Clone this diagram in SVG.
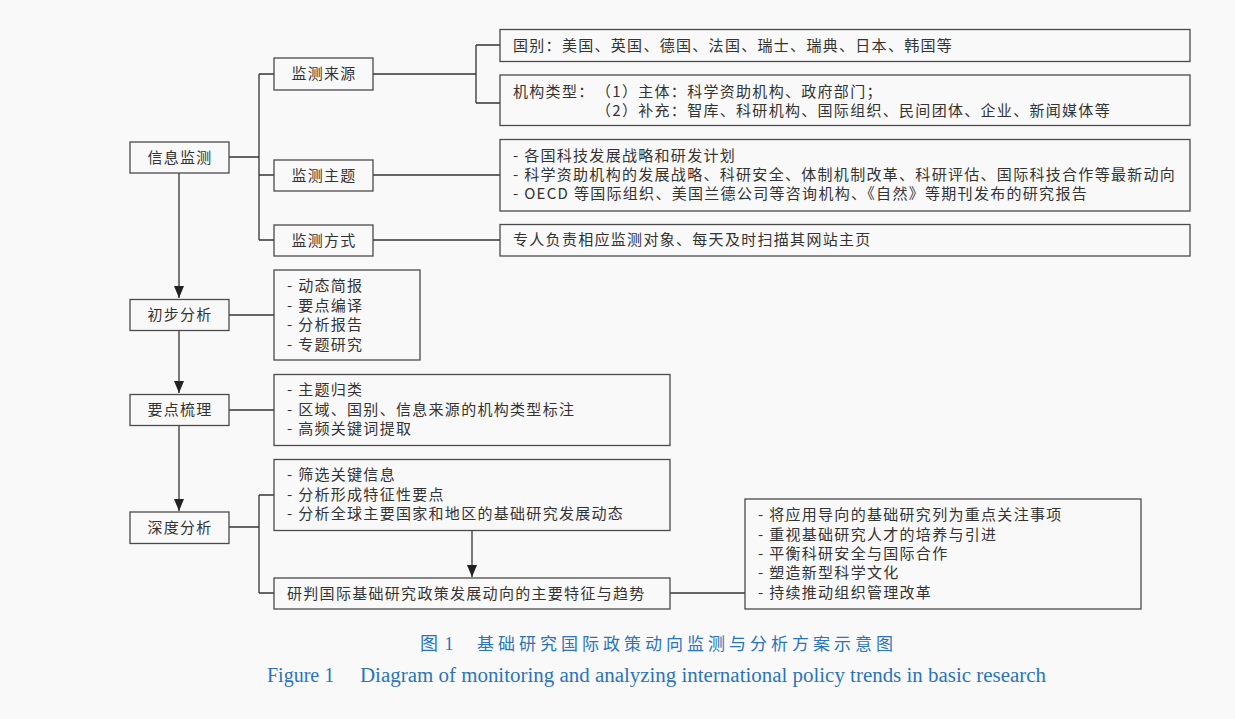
<svg xmlns="http://www.w3.org/2000/svg" width="1235" height="719" viewBox="0 0 1235 719">
<defs>
<style>
.box{fill:#f9f9f9;stroke:#4a4a4a;stroke-width:1.3}
.t{font-family:"Noto Sans CJK SC","Liberation Sans",sans-serif;font-size:15px;fill:#333;letter-spacing:1.3px}
.c{text-anchor:middle}
.ln{fill:none;stroke:#333;stroke-width:1.3}
.cap{font-family:"Liberation Serif","Noto Sans CJK SC",serif;fill:#2a74bb}
</style>
<marker id="ah" viewBox="0 0 12 10" refX="12" refY="5" markerWidth="12" markerHeight="10" markerUnits="userSpaceOnUse" orient="auto">
<path d="M0,0 L12,5 L0,10 Z" fill="#222"/>
</marker>
</defs>
<rect width="1235" height="719" fill="#f9f9f9"/>

<g id="connectors">
<path class="ln" d="M229,157 H259 M259,74 V240 M259,74 H274 M259,175 H274 M259,240 H274"/>
<path class="ln" d="M373,74 H476 M476,45 V103 M476,45 H500 M476,103 H500"/>
<path class="ln" d="M373,175 H500"/>
<path class="ln" d="M373,240 H500"/>
<path class="ln" d="M179,173 V298" marker-end="url(#ah)"/>
<path class="ln" d="M179,331 V393" marker-end="url(#ah)"/>
<path class="ln" d="M179,425 V511" marker-end="url(#ah)"/>
<path class="ln" d="M229,315 H274"/>
<path class="ln" d="M229,410 H274"/>
<path class="ln" d="M229,527 H259 M259,495 V593 M259,495 H274 M259,593 H274"/>
<path class="ln" d="M472,530 V577" marker-end="url(#ah)"/>
<path class="ln" d="M670,593 H745"/>
</g>

<g id="n-xinxi"><rect class="box" x="130" y="142" width="99" height="31"/><text class="t c" x="180" y="162.5">信息监测</text></g>
<g id="n-laiyuan"><rect class="box" x="274" y="58" width="99" height="32"/><text class="t c" x="324" y="79">监测来源</text></g>
<g id="n-zhuti"><rect class="box" x="274" y="160" width="99" height="31"/><text class="t c" x="324" y="180.5">监测主题</text></g>
<g id="n-fangshi"><rect class="box" x="274" y="225" width="99" height="31"/><text class="t c" x="324" y="245.5">监测方式</text></g>

<g id="n-guobie"><rect class="box" x="500" y="29.5" width="690" height="32"/><text class="t" x="513" y="50.5">国别：美国、英国、德国、法国、瑞士、瑞典、日本、韩国等</text></g>
<g id="n-jigou"><rect class="box" x="500" y="75" width="690" height="50.5"/><text class="t" x="513" y="96.5">机构类型：</text><text class="t" x="596" y="96.5">（1）主体：科学资助机构、政府部门；</text><text class="t" x="596" y="115.5">（2）补充：智库、科研机构、国际组织、民间团体、企业、新闻媒体等</text></g>
<g id="n-zhutinei"><rect class="box" x="500" y="139.5" width="690" height="71.5"/><text class="t" x="513" y="161">- 各国科技发展战略和研发计划</text><text class="t" x="513" y="180">- 科学资助机构的发展战略、科研安全、体制机制改革、科研评估、国际科技合作等最新动向</text><text class="t" x="513" y="199">- OECD 等国际组织、美国兰德公司等咨询机构、《自然》等期刊发布的研究报告</text></g>
<g id="n-fangshinei"><rect class="box" x="500" y="224.5" width="690" height="31.5"/><text class="t" x="513" y="245">专人负责相应监测对象、每天及时扫描其网站主页</text></g>

<g id="n-chubu"><rect class="box" x="130" y="299.5" width="99" height="31"/><text class="t c" x="180" y="320">初步分析</text></g>
<g id="n-chubunei"><rect class="box" x="274" y="270" width="146" height="90"/><text class="t" x="287" y="291">- 动态简报</text><text class="t" x="287" y="310.5">- 要点编译</text><text class="t" x="287" y="330">- 分析报告</text><text class="t" x="287" y="349.5">- 专题研究</text></g>

<g id="n-yaodian"><rect class="box" x="130" y="394.5" width="99" height="31"/><text class="t c" x="180" y="415">要点梳理</text></g>
<g id="n-yaodiannei"><rect class="box" x="274" y="374.5" width="396" height="71"/><text class="t" x="287" y="395">- 主题归类</text><text class="t" x="287" y="414.5">- 区域、国别、信息来源的机构类型标注</text><text class="t" x="287" y="434">- 高频关键词提取</text></g>

<g id="n-shendu"><rect class="box" x="130" y="512" width="99" height="31.5"/><text class="t c" x="180" y="532.5">深度分析</text></g>
<g id="n-shendunei"><rect class="box" x="274" y="459.5" width="396" height="71"/><text class="t" x="287" y="480">- 筛选关键信息</text><text class="t" x="287" y="499.5">- 分析形成特征性要点</text><text class="t" x="287" y="519">- 分析全球主要国家和地区的基础研究发展动态</text></g>
<g id="n-yanpan"><rect class="box" x="274" y="578" width="396" height="31"/><text class="t" x="287" y="598.5">研判国际基础研究政策发展动向的主要特征与趋势</text></g>
<g id="n-tezheng"><rect class="box" x="745" y="499" width="396" height="110"/><text class="t" x="758" y="520">- 将应用导向的基础研究列为重点关注事项</text><text class="t" x="758" y="539.5">- 重视基础研究人才的培养与引进</text><text class="t" x="758" y="558.5">- 平衡科研安全与国际合作</text><text class="t" x="758" y="578">- 塑造新型科学文化</text><text class="t" x="758" y="597.5">- 持续推动组织管理改革</text></g>

<g id="caption">
<text class="cap" x="420" y="650" font-size="18" font-family="Noto Sans CJK SC,sans-serif" letter-spacing="1">图 1</text>
<text class="cap" x="477" y="650" font-size="17" font-family="Noto Sans CJK SC,sans-serif" textLength="416" lengthAdjust="spacing">基础研究国际政策动向监测与分析方案示意图</text>
<text class="cap" x="267" y="682" font-size="20">Figure 1</text>
<text class="cap" x="360" y="682" font-size="20" textLength="686" lengthAdjust="spacingAndGlyphs">Diagram of monitoring and analyzing international policy trends in basic research</text>
</g>
</svg>
